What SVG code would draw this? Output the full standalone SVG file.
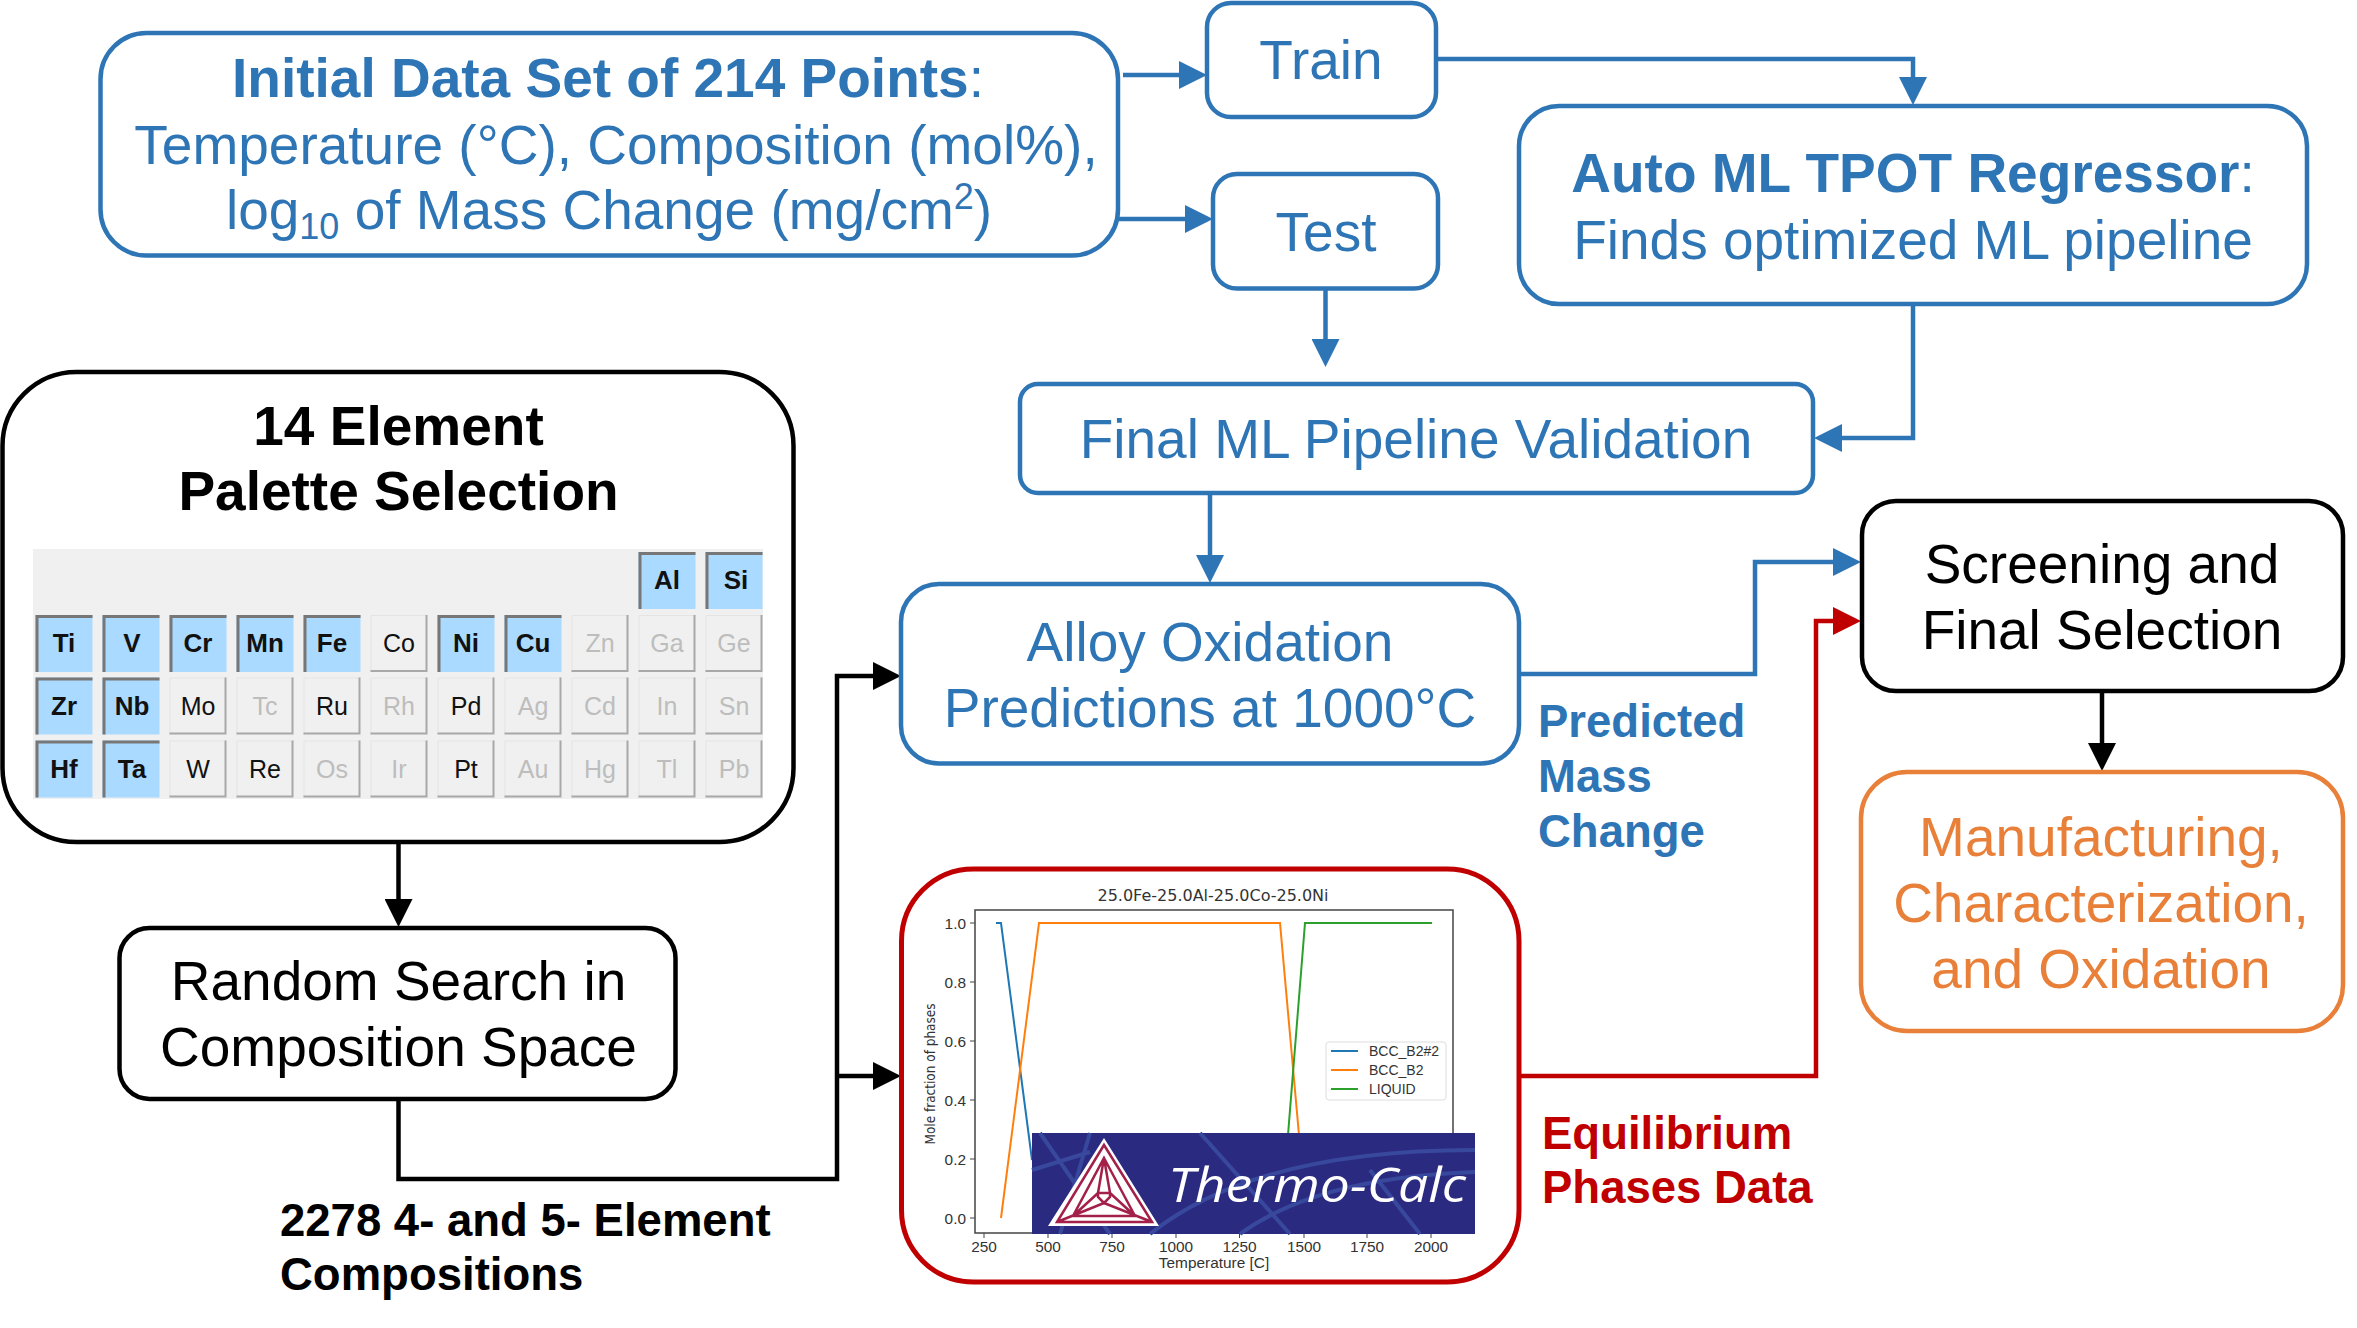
<svg xmlns="http://www.w3.org/2000/svg" width="2357" height="1328" viewBox="0 0 2357 1328">
<style>
text{font-family:"Liberation Sans",Arial,sans-serif}
.m{font-size:55px;text-anchor:middle}
.l{font-size:45.5px;font-weight:700}
.b{font-weight:700}
.blue{fill:#2e75b6}.blk{fill:#000}.red{fill:#c00000}.org{fill:#e8803a}
.box{fill:#fff;stroke-width:4.5}
.sb{stroke:#2e75b6}.sk{stroke:#000}.sr{stroke:#c00000}.so{stroke:#e8803a}
.c{fill:none;stroke-width:4.5}
.el{font-size:25px;text-anchor:middle}
.on{font-size:26px;font-weight:700;fill:#111}
.dk{fill:#111}.gr{fill:#bdbdbd}
.ch{font-family:"DejaVu Sans",sans-serif;font-size:15.4px;fill:#333}
.tk{stroke:#444;stroke-width:1}
</style>
<defs>
<marker id="ab" markerUnits="userSpaceOnUse" markerWidth="28" markerHeight="28" refX="18" refY="14" orient="auto"><path d="M0 0L28 14L0 28Z" fill="#2e75b6"/></marker>
<marker id="ak" markerUnits="userSpaceOnUse" markerWidth="28" markerHeight="28" refX="18" refY="14" orient="auto"><path d="M0 0L28 14L0 28Z" fill="#000"/></marker>
<marker id="ar" markerUnits="userSpaceOnUse" markerWidth="28" markerHeight="28" refX="18" refY="14" orient="auto"><path d="M0 0L28 14L0 28Z" fill="#c00000"/></marker>
<g id="cOn"><rect width="57" height="57" fill="#aadaff"/><path d="M1.5 57V1.5H57" fill="none" stroke="#777" stroke-width="3"/></g>
<g id="cOff"><rect width="57" height="57" fill="#f0f0f0"/><path d="M.5 57V.5H57" fill="none" stroke="#e4e4e4" stroke-width="1"/><path d="M56 0V56H0" fill="none" stroke="#a8a8a8" stroke-width="2"/></g>
</defs>
<rect width="2357" height="1328" fill="#fff"/>

<g id="connectors">
<path class="c sb" d="M1123 75H1197" marker-end="url(#ab)"/>
<path class="c sb" d="M1118 219H1203" marker-end="url(#ab)"/>
<path class="c sb" d="M1436 59H1913V95" marker-end="url(#ab)"/>
<path class="c sb" d="M1325.5 288V357" marker-end="url(#ab)"/>
<path class="c sb" d="M1913 304V438H1824" marker-end="url(#ab)"/>
<path class="c sb" d="M1210 493V573" marker-end="url(#ab)"/>
<path class="c sb" d="M1520 674H1755V562H1851" marker-end="url(#ab)"/>
<path class="c sr" d="M1519 1076H1816V621H1851" marker-end="url(#ar)"/>
<path class="c sk" d="M2102 691V761" marker-end="url(#ak)"/>
<path class="c sk" d="M398.5 842V917" marker-end="url(#ak)"/>
<path class="c sk" d="M398.5 1099V1179H837V676H891" marker-end="url(#ak)"/>
<path class="c sk" d="M837 1076H891" marker-end="url(#ak)"/>
</g>

<g id="node-initial">
<rect class="box sb" x="100.5" y="33" width="1017.5" height="222.5" rx="46"/>
<text class="m blue" x="608" y="97"><tspan class="b">Initial Data Set of 214 Points</tspan>:</text>
<text class="m blue" x="616" y="163.5">Temperature (°C), Composition (mol%),</text>
<text class="m blue" x="609" y="229">log<tspan font-size="36" dy="10">10</tspan><tspan dy="-10"> of Mass Change (mg/cm</tspan><tspan font-size="36" dy="-20">2</tspan><tspan dy="20">)</tspan></text>
</g>
<g id="node-train">
<rect class="box sb" x="1207" y="3" width="229" height="114" rx="24"/>
<text class="m blue" x="1321" y="79">Train</text>
</g>
<g id="node-test">
<rect class="box sb" x="1213" y="174" width="225" height="114.5" rx="24"/>
<text class="m blue" x="1326" y="251">Test</text>
</g>
<g id="node-automl">
<rect class="box sb" x="1519" y="106" width="788" height="198" rx="40"/>
<text class="m blue" x="1913" y="192"><tspan class="b">Auto ML TPOT Regressor</tspan>:</text>
<text class="m blue" x="1913" y="258.5">Finds optimized ML pipeline</text>
</g>
<g id="node-final">
<rect class="box sb" x="1020" y="384" width="793" height="109" rx="18"/>
<text class="m blue" x="1416" y="458">Final ML Pipeline Validation</text>
</g>
<g id="node-alloy">
<rect class="box sb" x="901" y="584" width="618" height="179.5" rx="38"/>
<text class="m blue" x="1210" y="661">Alloy Oxidation</text>
<text class="m blue" x="1210" y="726.5">Predictions at 1000°C</text>
</g>
<g id="node-screening">
<rect class="box sk" x="1862" y="501" width="481" height="190" rx="34"/>
<text class="m blk" x="2102" y="583">Screening and</text>
<text class="m blk" x="2102" y="649">Final Selection</text>
</g>
<g id="node-manufacturing">
<rect class="box so" x="1861" y="772" width="482" height="259" rx="46"/>
<text class="m org" x="2101" y="856">Manufacturing,</text>
<text class="m org" x="2101" y="922">Characterization,</text>
<text class="m org" x="2101" y="988">and Oxidation</text>
</g>
<g id="node-random">
<rect class="box sk" x="119.5" y="928" width="556" height="171" rx="30"/>
<text class="m blk" x="398.5" y="1000">Random Search in</text>
<text class="m blk" x="398.5" y="1066">Composition Space</text>
</g>

<g id="node-palette">
<rect class="box sk" x="2.5" y="372" width="791" height="470" rx="74"/>
<text class="m blk b" x="398.5" y="445">14 Element</text>
<text class="m blk b" x="398.5" y="510">Palette Selection</text>
<rect x="33" y="549" width="730" height="250" fill="#f0f0f0"/>
<use href="#cOn" x="638.5" y="552"/><use href="#cOn" x="705.5" y="552"/>
<use href="#cOn" x="35.5" y="615"/><use href="#cOn" x="102.5" y="615"/><use href="#cOn" x="169.5" y="615"/><use href="#cOn" x="236.5" y="615"/><use href="#cOn" x="303.5" y="615"/><use href="#cOff" x="370.5" y="615"/><use href="#cOn" x="437.5" y="615"/><use href="#cOn" x="504.5" y="615"/><use href="#cOff" x="571.5" y="615"/><use href="#cOff" x="638.5" y="615"/><use href="#cOff" x="705.5" y="615"/>
<use href="#cOn" x="35.5" y="677.5"/><use href="#cOn" x="102.5" y="677.5"/><use href="#cOff" x="169.5" y="677.5"/><use href="#cOff" x="236.5" y="677.5"/><use href="#cOff" x="303.5" y="677.5"/><use href="#cOff" x="370.5" y="677.5"/><use href="#cOff" x="437.5" y="677.5"/><use href="#cOff" x="504.5" y="677.5"/><use href="#cOff" x="571.5" y="677.5"/><use href="#cOff" x="638.5" y="677.5"/><use href="#cOff" x="705.5" y="677.5"/>
<use href="#cOn" x="35.5" y="740.5"/><use href="#cOn" x="102.5" y="740.5"/><use href="#cOff" x="169.5" y="740.5"/><use href="#cOff" x="236.5" y="740.5"/><use href="#cOff" x="303.5" y="740.5"/><use href="#cOff" x="370.5" y="740.5"/><use href="#cOff" x="437.5" y="740.5"/><use href="#cOff" x="504.5" y="740.5"/><use href="#cOff" x="571.5" y="740.5"/><use href="#cOff" x="638.5" y="740.5"/><use href="#cOff" x="705.5" y="740.5"/>
<g>
<text class="el on" x="667" y="589">Al</text><text class="el on" x="736" y="589">Si</text>
<text class="el on" x="64" y="652">Ti</text><text class="el on" x="132" y="652">V</text><text class="el on" x="198" y="652">Cr</text><text class="el on" x="265" y="652">Mn</text><text class="el on" x="332" y="652">Fe</text><text class="el dk" x="399" y="652">Co</text><text class="el on" x="466" y="652">Ni</text><text class="el on" x="533" y="652">Cu</text><text class="el gr" x="600" y="652">Zn</text><text class="el gr" x="667" y="652">Ga</text><text class="el gr" x="734" y="652">Ge</text>
<text class="el on" x="64" y="715">Zr</text><text class="el on" x="132" y="715">Nb</text><text class="el dk" x="198" y="715">Mo</text><text class="el gr" x="265" y="715">Tc</text><text class="el dk" x="332" y="715">Ru</text><text class="el gr" x="399" y="715">Rh</text><text class="el dk" x="466" y="715">Pd</text><text class="el gr" x="533" y="715">Ag</text><text class="el gr" x="600" y="715">Cd</text><text class="el gr" x="667" y="715">In</text><text class="el gr" x="734" y="715">Sn</text>
<text class="el on" x="64" y="778">Hf</text><text class="el on" x="132" y="778">Ta</text><text class="el dk" x="198" y="778">W</text><text class="el dk" x="265" y="778">Re</text><text class="el gr" x="332" y="778">Os</text><text class="el gr" x="399" y="778">Ir</text><text class="el dk" x="466" y="778">Pt</text><text class="el gr" x="533" y="778">Au</text><text class="el gr" x="600" y="778">Hg</text><text class="el gr" x="667" y="778">Tl</text><text class="el gr" x="734" y="778">Pb</text>
</g>
</g>

<g id="node-thermocalc">
<rect class="box sr" x="901.5" y="869" width="617.5" height="413" rx="72" style="stroke-width:5"/>
<text class="ch" x="1213" y="901" text-anchor="middle" style="font-size:16px">25.0Fe-25.0Al-25.0Co-25.0Ni</text>
<rect x="975" y="910" width="478" height="323" fill="#fff" stroke="#444" stroke-width="1.5"/>
<path class="tk" d="M970 923H975M970 982H975M970 1041H975M970 1100H975M970 1159H975M970 1218H975M984 1233V1238M1048 1233V1238M1112 1233V1238M1176 1233V1238M1239.5 1233V1238M1304 1233V1238M1367 1233V1238M1431 1233V1238"/>
<g class="ch" text-anchor="end"><text x="966" y="928.5">1.0</text><text x="966" y="987.5">0.8</text><text x="966" y="1046.5">0.6</text><text x="966" y="1105.5">0.4</text><text x="966" y="1164.5">0.2</text><text x="966" y="1223.5">0.0</text></g>
<g class="ch" text-anchor="middle"><text x="984" y="1252">250</text><text x="1048" y="1252">500</text><text x="1112" y="1252">750</text><text x="1176" y="1252">1000</text><text x="1239.5" y="1252">1250</text><text x="1304" y="1252">1500</text><text x="1367" y="1252">1750</text><text x="1431" y="1252">2000</text><text x="1214" y="1268">Temperature [C]</text></g>
<text class="ch" text-anchor="middle" transform="translate(935 1074) rotate(-90)" style="font-size:13.5px" textLength="141" lengthAdjust="spacingAndGlyphs">Mole fraction of phases</text>
<path d="M996 923H1001L1032 1160" fill="none" stroke="#1f77b4" stroke-width="2"/>
<path d="M1001 1218L1039 923H1280L1299 1135" fill="none" stroke="#ff7f0e" stroke-width="2"/>
<path d="M1288 1135L1305 923H1432" fill="none" stroke="#2ca02c" stroke-width="2"/>
<rect x="1326" y="1042" width="120" height="58" rx="3" fill="#fff" stroke="#ddd"/>
<path d="M1331 1051H1358" stroke="#1f77b4" stroke-width="2"/><path d="M1331 1070H1358" stroke="#ff7f0e" stroke-width="2"/><path d="M1331 1089H1358" stroke="#2ca02c" stroke-width="2"/>
<g class="ch" style="font-size:14px"><text x="1369" y="1056">BCC_B2#2</text><text x="1369" y="1075">BCC_B2</text><text x="1369" y="1094">LIQUID</text></g>
<rect x="1032" y="1133" width="443" height="101" fill="#2a2a80"/>
<path d="M1040 1133L1110 1234M1032 1170L1090 1152M1090 1133L1060 1234M1150 1234C1230 1170 1350 1150 1475 1150M1240 1234C1300 1190 1390 1175 1475 1172M1200 1133L1290 1234M1370 1170L1420 1234" fill="none" stroke="#38489c" stroke-width="4"/>
<path d="M1104 1138L1159 1226H1048Z" fill="#fff"/>
<path d="M1104 1145L1152 1222H1057ZM1104 1158L1135 1216H1073ZM1104 1158L1098 1193M1104 1158L1110 1193M1098 1193H1110L1110 1197L1104 1203L1098 1197ZM1098 1193L1073 1216M1110 1193L1135 1216M1104 1203L1057 1222M1104 1203L1152 1222" fill="none" stroke="#a3204a" stroke-width="2.5"/>
<text x="1168" y="1202" font-style="italic" style="font-family:'Open Sans',sans-serif;font-size:48px" fill="#fff" textLength="298" lengthAdjust="spacingAndGlyphs">Thermo-Calc</text>
</g>

<g id="labels">
<text class="l blue" x="1538" y="737">Predicted</text>
<text class="l blue" x="1538" y="792">Mass</text>
<text class="l blue" x="1538" y="847">Change</text>
<text class="l red" x="1542" y="1148.5">Equilibrium</text>
<text class="l red" x="1542" y="1202.5">Phases Data</text>
<text class="l blk" x="280" y="1235.5">2278 4- and 5- Element</text>
<text class="l blk" x="280" y="1290">Compositions</text>
</g>
</svg>
